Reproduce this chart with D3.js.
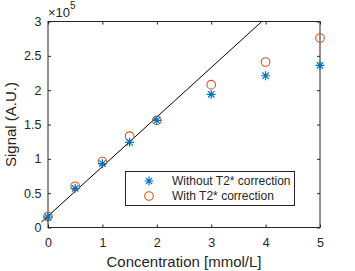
<!DOCTYPE html>
<html><head><meta charset="utf-8">
<script src="https://cdn.jsdelivr.net/npm/d3@7"></script>
<style>body{margin:0;background:#fff}svg{display:block}text{font-family:"Liberation Sans",Arial,sans-serif;fill:#262626}</style>
</head><body>
<script>
const concentration = [0, 0.5, 1, 1.5, 2, 3, 4, 5];
const withoutT2 = [0.15, 0.57, 0.93, 1.24, 1.56, 1.94, 2.21, 2.36];
const withT2 = [0.16, 0.60, 0.96, 1.33, 1.56, 2.08, 2.41, 2.76];
const fitLine = [[-0.12, 0.08], [3.93, 3.0]];
const xTicks = [0, 1, 2, 3, 4, 5];
const yTicks = [0, 0.5, 1, 1.5, 2, 2.5, 3];
const seriesNames = ["Without T2* correction", "With T2* correction"];

const W = 355, H = 271;
const m = {l: 48, r: 320, t: 21.5, b: 227.5};
const svg = d3.select("body").append("svg").attr("width", W).attr("height", H);
const x = d3.scaleLinear().domain([0, 5]).range([m.l, m.r]);
const y = d3.scaleLinear().domain([0, 3]).range([m.b, m.t]);
const axCol = "#262626";
const tickFont = 12.5;

// axes
const tl = 3;
const gx = svg.append("g").attr("transform", `translate(0,${m.b})`).call(d3.axisBottom(x).tickValues(xTicks).tickSize(-tl).tickPadding(11).tickFormat(d3.format("d")));
const gxt = svg.append("g").attr("transform", `translate(0,${m.t})`).call(d3.axisTop(x).tickValues(xTicks).tickSize(-tl).tickFormat(""));
const gy = svg.append("g").attr("transform", `translate(${m.l},0)`).call(d3.axisLeft(y).tickValues(yTicks).tickSize(-tl).tickPadding(6.5).tickFormat(d => d));
const gyr = svg.append("g").attr("transform", `translate(${m.r},0)`).call(d3.axisRight(y).tickValues(yTicks).tickSize(-tl).tickFormat(""));
[gx, gxt, gy, gyr].forEach(g => {
  g.selectAll(".tick line").attr("stroke", axCol);
  g.selectAll("text").attr("font-size", tickFont).attr("fill", axCol).style("font-family", '"Liberation Sans",Arial,sans-serif');
});
svg.selectAll(".domain").remove();
svg.append("rect").attr("x", m.l).attr("y", m.t).attr("width", m.r - m.l).attr("height", m.b - m.t)
  .attr("fill", "none").attr("stroke", axCol).attr("stroke-width", 1);

// exponent
const ex = svg.append("text").attr("x", m.l).attr("y", 17).attr("font-size", 13);
ex.append("tspan").text("\u00d710");
ex.append("tspan").attr("dy", -8).attr("font-size", 10).text("5");

// labels
svg.append("text").attr("x", (m.l + m.r) / 2).attr("y", 267).attr("text-anchor", "middle").attr("font-size", 15).text("Concentration [mmol/L]");
svg.append("text").attr("transform", `translate(16,${(m.t + m.b) / 2}) rotate(-90)`).attr("text-anchor", "middle").attr("font-size", 15).text("Signal (A.U.)");

// fit line
svg.append("line").attr("x1", x(fitLine[0][0])).attr("y1", y(fitLine[0][1])).attr("x2", x(fitLine[1][0])).attr("y2", y(fitLine[1][1]))
  .attr("stroke", "#000").attr("stroke-width", 1);

const blue = "#0072BD", orange = "#D95319";
function star(g, cx, cy) {
  const s = 4.5, d2 = 3.2;
  const d = `M${cx - s},${cy}L${cx + s},${cy}M${cx},${cy - s}L${cx},${cy + s}M${cx - d2},${cy - d2}L${cx + d2},${cy + d2}M${cx - d2},${cy + d2}L${cx + d2},${cy - d2}`;
  g.append("path").attr("d", d).attr("stroke", blue).attr("stroke-width", 1.2).attr("fill", "none");
}
const pts = svg.append("g");
concentration.forEach((c, i) => {
  pts.append("circle").attr("cx", x(c)).attr("cy", y(withT2[i])).attr("r", 4.3).attr("fill", "none").attr("stroke", orange).attr("stroke-width", 1.1);
});
concentration.forEach((c, i) => star(pts, x(c), y(withoutT2[i])));

// legend
const lg = svg.append("g");
lg.append("rect").attr("x", 125.5).attr("y", 171.5).attr("width", 169).attr("height", 34).attr("fill", "#fff").attr("stroke", axCol);
star(lg, 149, 181);
lg.append("circle").attr("cx", 149).attr("cy", 196).attr("r", 4.3).attr("fill", "none").attr("stroke", orange).attr("stroke-width", 1.1);
lg.append("text").attr("x", 172).attr("y", 185).attr("font-size", 12).text(seriesNames[0]);
lg.append("text").attr("x", 172).attr("y", 200).attr("font-size", 12).text(seriesNames[1]);
</script>
</body></html>
